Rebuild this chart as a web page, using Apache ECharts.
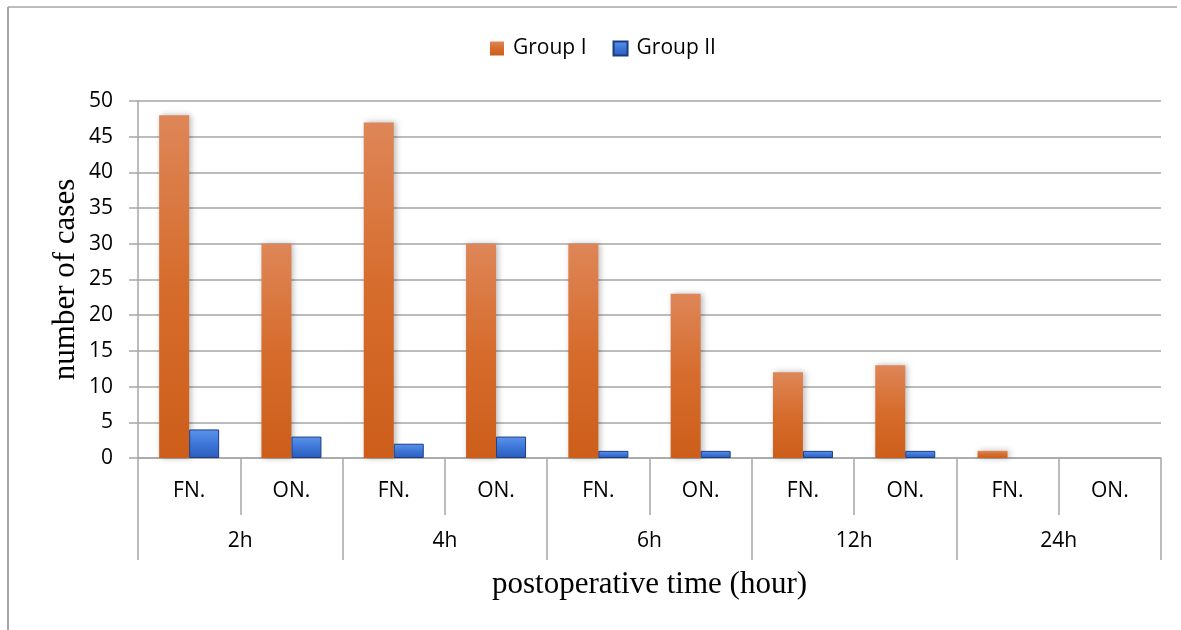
<!DOCTYPE html>
<html>
<head>
<meta charset="utf-8">
<script src="https://cdn.jsdelivr.net/npm/echarts@6/dist/echarts.min.js"></script>
<style>
  html, body { margin: 0; padding: 0; background: #fff; }
  #chart { width: 1181px; height: 630px; }
</style>
</head>
<body>
<div id="chart"></div>
<script>
// 读图得到的数据
var subCategories = ['FN.', 'ON.', 'FN.', 'ON.', 'FN.', 'ON.', 'FN.', 'ON.', 'FN.', 'ON.'];
var timeGroups = ['2h', '4h', '6h', '12h', '24h'];
var groupI = [48, 30, 47, 30, 30, 23, 12, 13, 1, 0];
var groupII = [4, 3, 2, 3, 1, 1, 1, 1, 0, 0];

// 0 值不画柱子（否则会留下一条边框线）
function hideZero(arr) {
    return arr.map(function (v) { return v === 0 ? null : v; });
}

var chart = echarts.init(document.getElementById('chart'));
var labelFont = '"Open Sans", "Liberation Sans", sans-serif';
var serif = '"Liberation Serif", "DejaVu Serif", serif';
var gridGray = '#a6a6a6';

var option = {
    backgroundColor: '#fff',
    animation: false,
    graphic: [
        { type: 'line', shape: { x1: 8, y1: 7, x2: 1177, y2: 7 }, style: { stroke: '#a6a6a6', lineWidth: 1.5 } },
        { type: 'line', shape: { x1: 8, y1: 7, x2: 8, y2: 630 }, style: { stroke: '#a6a6a6', lineWidth: 2 } }
    ],
    legend: {
        top: 33,
        left: 485,
        icon: 'rect',
        itemWidth: 14,
        itemHeight: 14,
        itemGap: 26,
        textStyle: { fontFamily: labelFont, fontSize: 21, color: '#000', padding: [0, 0, 0, 4] },
        data: ['Group I', 'Group II']
    },
    grid: { left: 138, right: 20, top: 101, bottom: 172 },
    xAxis: [
        {
            type: 'category',
            data: subCategories,
            position: 'bottom',
            axisLine: { show: true, lineStyle: { color: gridGray, width: 1.5 } },
            axisTick: { show: true, interval: 0, length: 57, lineStyle: { color: gridGray, width: 1.5 } },
            axisLabel: { interval: 0, margin: 23, fontFamily: labelFont, fontSize: 21, color: '#000' }
        },
        {
            type: 'category',
            data: timeGroups,
            position: 'bottom',
            axisLine: { show: false },
            axisTick: { show: true, interval: 0, length: 102, lineStyle: { color: gridGray, width: 1.5 } },
            axisLabel: { interval: 0, margin: 73, fontFamily: labelFont, fontSize: 21, color: '#000' },
            name: 'postoperative time (hour)',
            nameLocation: 'middle',
            nameGap: 111,
            nameMoveOverlap: false,
            nameTextStyle: { fontFamily: serif, fontSize: 31, color: '#000' }
        }
    ],
    yAxis: {
        type: 'value',
        min: 0,
        max: 50,
        interval: 5,
        name: 'number of cases',
        nameLocation: 'middle',
        nameGap: 57,
        nameMoveOverlap: false,
        nameTextStyle: { fontFamily: serif, fontSize: 31, color: '#000' },
        axisLine: { show: true, lineStyle: { color: gridGray, width: 1.5 } },
        axisTick: { show: true, length: 9, lineStyle: { color: gridGray, width: 1.5 } },
        axisLabel: { margin: 25, fontFamily: labelFont, fontSize: 21, color: '#000' },
        splitLine: { show: true, lineStyle: { color: gridGray, width: 1.5 } }
    },
    series: [
        {
            name: 'Group I',
            type: 'bar',
            xAxisIndex: 0,
            barWidth: 30,
            barGap: '0%',
            data: hideZero(groupI),
            itemStyle: {
                color: new echarts.graphic.LinearGradient(0, 0, 0, 1, [
                    { offset: 0, color: '#de8658' },
                    { offset: 0.5, color: '#d66c2c' },
                    { offset: 1, color: '#cd5e1a' }
                ]),
                shadowBlur: 6,
                shadowColor: 'rgba(0,0,0,0.28)',
                shadowOffsetX: 2
            }
        },
        {
            name: 'Group II',
            type: 'bar',
            xAxisIndex: 0,
            barWidth: 30,
            data: hideZero(groupII),
            itemStyle: {
                color: new echarts.graphic.LinearGradient(0, 0, 0, 1, [
                    { offset: 0, color: '#5b95ec' },
                    { offset: 0.5, color: '#3d76d8' },
                    { offset: 1, color: '#2c5cbb' }
                ]),
                borderColor: '#1c3c82',
                borderWidth: 1
            }
        }
    ]
};

chart.setOption(option);
window.addEventListener('resize', function () {
    chart.resize();
});
</script>
</body>
</html>
